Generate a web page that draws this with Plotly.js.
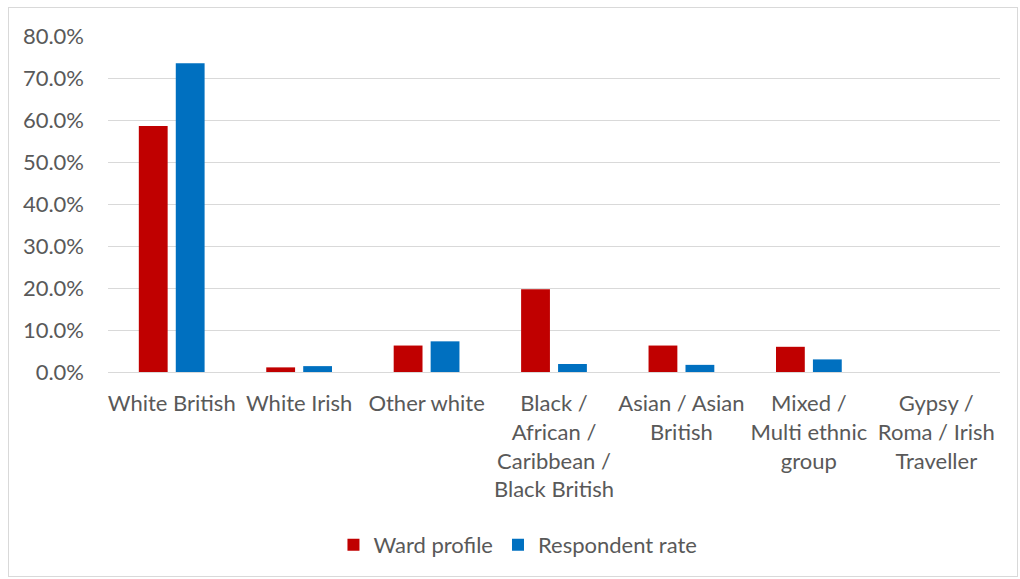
<!DOCTYPE html>
<html>
<head>
<meta charset="utf-8">
<script src="https://cdn.plot.ly/plotly-3.0.1.min.js"></script>
<style>
html,body{margin:0;padding:0;background:#fff;}
#frame{position:absolute;left:8px;top:7px;width:1010px;height:570px;border:1px solid #d9d9d9;box-sizing:border-box;}
#chart{position:absolute;left:0;top:0;width:1020px;height:579px;}
</style>
</head>
<body>
<div id="frame"></div>
<div id="chart"></div>
<script>
const categories = [
  "White British",
  "White Irish",
  "Other white",
  "Black /<br>African /<br>Caribbean /<br>Black British",
  "Asian / Asian<br>British",
  "Mixed /<br>Multi ethnic<br>group",
  "Gypsy /<br>Roma / Irish<br>Traveller"
];
const wardProfile = [58.6, 1.1, 6.3, 19.7, 6.3, 6.0, 0.0];
const respondentRate = [73.5, 1.4, 7.3, 1.9, 1.7, 3.0, 0.0];
const yTicks = [0, 10, 20, 30, 40, 50, 60, 70, 80];

const font = {family: "Lato, Open Sans, sans-serif", size: 22, color: "#595959"};

const data = [
  {type: "bar", name: "Ward profile", x: categories, y: wardProfile,
   marker: {color: "#c00000"}, hoverinfo: "skip"},
  {type: "bar", name: "Respondent rate", x: categories, y: respondentRate,
   marker: {color: "#0070c0"}, hoverinfo: "skip"}
];

const layout = {
  width: 1020, height: 579,
  paper_bgcolor: "rgba(0,0,0,0)", plot_bgcolor: "rgba(0,0,0,0)",
  margin: {l: 108, r: 20, t: 36, b: 207},
  font: font,
  barmode: "group",
  bargap: 0.42, bargroupgap: 0.22,
  showlegend: true,
  legend: {orientation: "h", x: 0.4596, xanchor: "center", y: -0.515, yanchor: "middle",
           font: font, itemwidth: 30, traceorder: "normal"},
  xaxis: {tickfont: font, showgrid: false, showline: true, linecolor: "#d9d9d9",
          ticks: "", ticklen: 0, automargin: false, tickangle: 0, ticklabelstandoff: 12},
  yaxis: {range: [0, 80], tickvals: yTicks, ticktext: yTicks.map(v => v.toFixed(1) + "%"),
          tickfont: font, showgrid: true, gridcolor: "#d9d9d9", gridwidth: 1,
          zeroline: false, showline: false, ticks: "", automargin: false, ticklabelstandoff: 23}
};

Plotly.newPlot("chart", data, layout, {displayModeBar: false, staticPlot: true});
</script>
</body>
</html>
